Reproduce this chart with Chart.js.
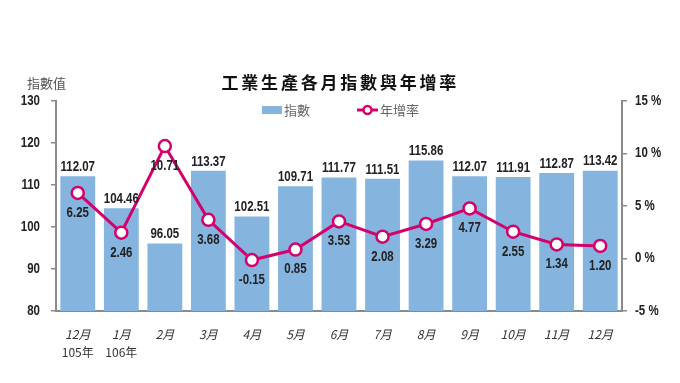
<!DOCTYPE html>
<html><head><meta charset="utf-8">
<script src="https://cdn.jsdelivr.net/npm/chart.js@4"></script>
<style>html,body{margin:0;padding:0;background:#fff}#wrap{width:680px;height:383px}</style>
</head><body><div id="wrap"><canvas id="c" width="680" height="383"></canvas></div>
<script>
const categories = ['12月','1月','2月','3月','4月','5月','6月','7月','8月','9月','10月','11月','12月'];
const yearLabels = ['105年','106年','','','','','','','','','','',''];
const indexValues = [112.07,104.46,96.05,113.37,102.51,109.71,111.77,111.51,115.86,112.07,111.91,112.87,113.42];
const growthRates = [6.25,2.46,10.71,3.68,-0.15,0.85,3.53,2.08,3.29,4.77,2.55,1.34,1.20];
const leftTicks = [80,90,100,110,120,130];
const rightTicks = [-5,0,5,10,15];
const titleText = '工業生產各月指數與年增率';

const BAR = '#85B4DF', LINE = '#D4006C', AXIS = '#8a8a8a';
const NUMFONT = 'bold 14px "Liberation Sans",Arial,sans-serif';
const CJK = '"Noto Sans CJK TC","Noto Sans CJK SC",sans-serif';
const SQUEEZE = 0.82;

function narrow(ctx, text, x, y, align, baseline) {
  ctx.save();
  ctx.translate(x, y);
  ctx.scale(SQUEEZE, 1);
  ctx.textAlign = align; ctx.textBaseline = baseline;
  ctx.fillText(text, 0, 0);
  ctx.restore();
}

const deco = {
  id: 'deco',
  afterDraw(chart) {
    const ctx = chart.ctx;
    ctx.save();
    ctx.font = NUMFONT;
    ctx.fillStyle = '#222';
    // axis tick labels (positions from the library scales)
    const yl = chart.scales.y, yr = chart.scales.y1;
    yl.ticks.forEach(t => narrow(ctx, String(t.value), yl.right - 16, yl.getPixelForValue(t.value), 'right', 'middle'));
    yr.ticks.forEach(t => narrow(ctx, t.value + ' %', yr.left + 13, yr.getPixelForValue(t.value), 'left', 'middle'));
    // bar labels
    chart.getDatasetMeta(0).data.forEach((el, i) => {
      narrow(ctx, indexValues[i].toFixed(2), el.x, el.y - 2, 'center', 'bottom');
    });
    chart.getDatasetMeta(1).data.forEach((el, i) => {
      narrow(ctx, growthRates[i].toFixed(2), el.x, el.y + 20, 'center', 'middle');
    });
    // year labels
    ctx.textAlign = 'center'; ctx.textBaseline = 'middle';
    ctx.font = '12px ' + CJK;
    ctx.fillStyle = '#333';
    const xs = chart.scales.x;
    yearLabels.forEach((t, i) => { if (t) ctx.fillText(t, xs.getPixelForValue(i), 352); });
    // title
    ctx.font = 'bold 17px ' + CJK;
    ctx.fillStyle = '#111';
    [...titleText].forEach((ch, i) => ctx.fillText(ch, 230 + i * 19.8, 83));
    // y axis title
    ctx.font = '13px ' + CJK;
    ctx.fillStyle = '#555';
    ctx.textAlign = 'left';
    ctx.fillText('指數值', 27, 83);
    // legend
    ctx.fillStyle = BAR;
    ctx.fillRect(262, 106, 20, 8);
    ctx.fillStyle = '#666';
    ctx.fillText('指數', 284, 110);
    ctx.strokeStyle = LINE; ctx.lineWidth = 3;
    ctx.beginPath(); ctx.moveTo(357, 110); ctx.lineTo(378, 110); ctx.stroke();
    ctx.beginPath(); ctx.arc(367.5, 110, 4, 0, Math.PI * 2);
    ctx.fillStyle = '#fff'; ctx.fill(); ctx.lineWidth = 2.5; ctx.stroke();
    ctx.fillStyle = '#666';
    ctx.fillText('年增率', 380, 110);
    ctx.restore();
  }
};

new Chart(document.getElementById('c'), {
  data: {
    labels: categories,
    datasets: [
      { type: 'bar', label: '指數', data: indexValues, backgroundColor: BAR, yAxisID: 'y',
        barPercentage: 0.8, categoryPercentage: 1, order: 2 },
      { type: 'line', label: '年增率', data: growthRates, yAxisID: 'y1', borderColor: LINE, borderWidth: 3,
        pointRadius: 6, pointBackgroundColor: '#fff', pointBorderColor: LINE, pointBorderWidth: 2.5,
        tension: 0, order: 1 }
    ]
  },
  options: {
    responsive: false, animation: false,
    layout: { padding: { top: 101, left: 0, right: 0, bottom: 0 } },
    plugins: { legend: { display: false }, tooltip: { enabled: false } },
    scales: {
      x: {
        grid: { drawOnChartArea: false, drawTicks: false },
        border: { color: AXIS, width: 2 },
        ticks: { font: { family: CJK, size: 12, style: 'italic' }, color: '#333', padding: 16 },
        afterFit(s) { s.height = 72; }
      },
      y: {
        position: 'left', min: 80, max: 130,
        afterBuildTicks(s) { s.ticks = leftTicks.map(v => ({ value: v })); },
        grid: { drawOnChartArea: false, tickLength: 5, color: AXIS, lineWidth: 1.5 },
        border: { color: AXIS, width: 2 },
        ticks: { display: false },
        afterFit(s) { s.width = 56; }
      },
      y1: {
        position: 'right', min: -5, max: 15,
        afterBuildTicks(s) { s.ticks = rightTicks.map(v => ({ value: v })); },
        grid: { drawOnChartArea: false, tickLength: 5, color: AXIS, lineWidth: 1.5 },
        border: { color: AXIS, width: 2 },
        ticks: { display: false },
        afterFit(s) { s.width = 58; }
      }
    }
  },
  plugins: [deco]
});
</script></body></html>
